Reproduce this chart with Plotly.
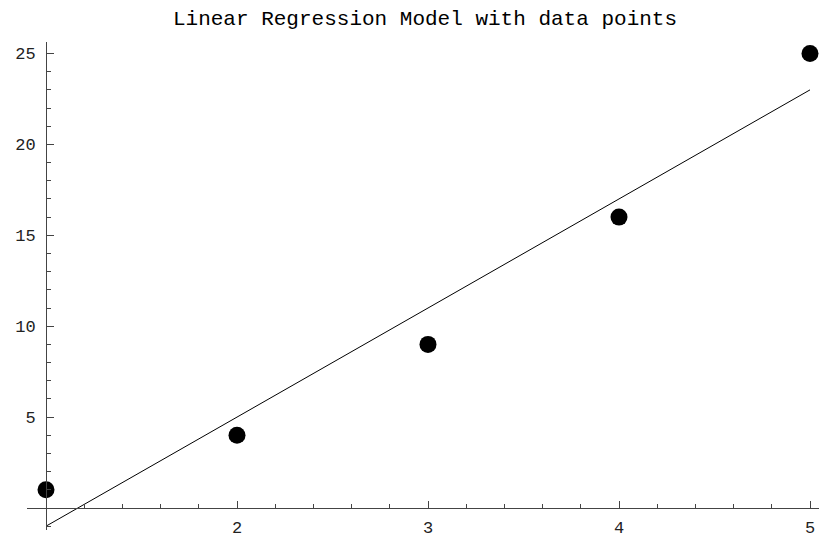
import plotly.graph_objects as go

# data
x_points = [1, 2, 3, 4, 5]
y_points = [1, 4, 9, 16, 25]
# regression line endpoints (fit y = 6x - 7)
line_x = [1, 5]
line_y = [-1, 23]
x_tickvals = [2, 3, 4, 5]
y_tickvals = [5, 10, 15, 20, 25]
title_text = "Linear Regression Model with data points"

W, H = 819, 539
ml, mr, mt, mb = 27, 0, 42, 9
pw, ph = W - ml - mr, H - mt - mb
x_range = [1 - (46 - 27) / 191.0, 1 + (819 - 46) / 191.0]
y_range = [-(530 - 508) / 18.18, (508 - 42) / 18.18]

fig = go.Figure()
fig.add_trace(go.Scatter(x=line_x, y=line_y, mode="lines",
                         line=dict(color="black", width=1), showlegend=False))
fig.add_trace(go.Scatter(x=x_points, y=y_points, mode="markers",
                         marker=dict(color="black", size=17), showlegend=False,
                         cliponaxis=False))

font = "Liberation Mono, Courier New, monospace"
axcol = "#444"
fig.update_layout(
    width=W, height=H,
    margin=dict(l=ml, r=mr, t=mt, b=mb, autoexpand=False),
    paper_bgcolor="white", plot_bgcolor="white",
    hovermode=False,
    title=dict(text=title_text, x=425 / W, xanchor="center",
               y=1 - 18 / H, yanchor="middle", automargin=False,
               font=dict(family=font, size=21, color="black")),
    xaxis=dict(range=x_range, showgrid=False, zeroline=False, automargin=False,
               showline=True, linecolor=axcol, linewidth=1,
               anchor="free", position=(530 - 508) / ph,
               tickvals=x_tickvals, ticks="inside", ticklen=7, tickcolor=axcol,
               ticklabelstandoff=4, ticklabeloverflow="allow",
               tickfont=dict(family=font, size=17, color="#222"),
               minor=dict(dtick=0.2, tick0=1, ticks="inside", ticklen=4, tickcolor=axcol)),
    yaxis=dict(range=y_range, showgrid=False, zeroline=False, automargin=False,
               showline=True, linecolor=axcol, linewidth=1,
               anchor="free", position=(46 - 27) / pw,
               tickvals=y_tickvals, ticks="inside", ticklen=7, tickcolor=axcol,
               ticklabelstandoff=7, ticklabeloverflow="allow",
               tickfont=dict(family=font, size=17, color="#222"),
               minor=dict(dtick=1, tick0=0, ticks="inside", ticklen=4, tickcolor=axcol)),
)
fig.write_html("out.html",
               config={"displayModeBar": False, "staticPlot": True},
               post_script="document.body.style.margin='0';document.body.style.overflow='hidden';")
